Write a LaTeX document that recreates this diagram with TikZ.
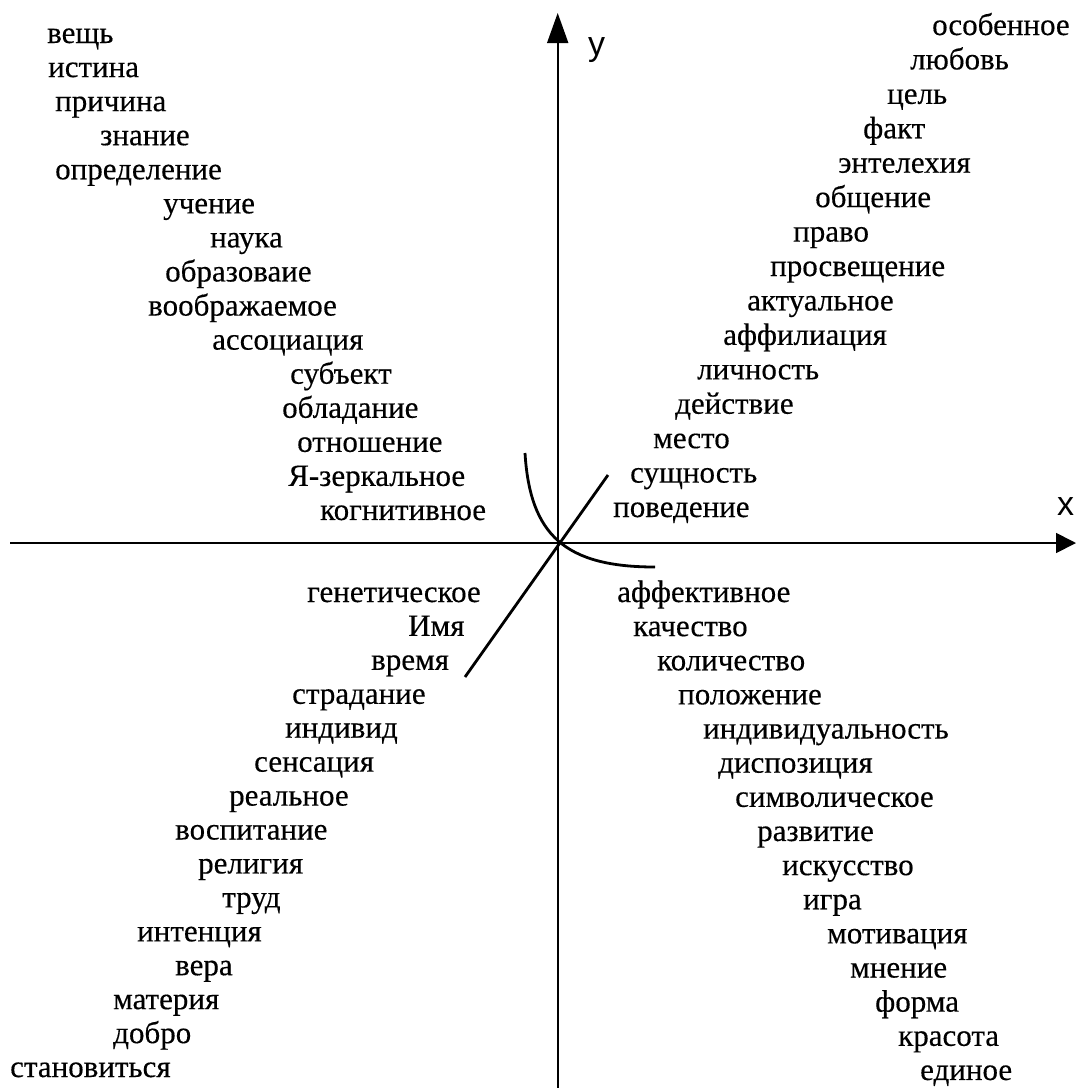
\documentclass[tikz,border=0pt]{standalone}
\usepackage{fontspec}
\setmainfont{Liberation Serif}
\newfontfamily\wordfont[FakeBold=0.35]{Liberation Serif}
\newfontfamily\axisfont{Liberation Sans}
\usetikzlibrary{arrows.meta}
\tikzset{
  word/.style={anchor=base west, inner sep=0pt, font=\wordfont\fontsize{31}{35}\selectfont},
  axislbl/.style={anchor=base west, inner sep=0pt, font=\axisfont\fontsize{34}{38}\selectfont},
  axisline/.style={line width=1.8pt},
  curveline/.style={line width=2.8pt},
}
\begin{document}
\begin{tikzpicture}[x=1pt,y=-1pt]
\useasboundingbox (0,0) rectangle (1076,1088);
% axes
\coordinate (O) at (557.7,543);
\coordinate (xs) at (10,543);
\coordinate (xe) at (1076,543);
\coordinate (ys) at (557.7,1088);
\coordinate (ye) at (557.7,13);
\draw[axisline,-{Triangle[length=20pt,width=20pt]}] (xs) -- (xe);
\draw[axisline,-{Triangle[length=30pt,width=21pt]}] (ys) -- (ye);
\node[axislbl] (ylbl) at (588,55) {y};
\node[axislbl] (xlbl) at (1057,515) {x};
% curves
\coordinate (a1) at (525,453);
\coordinate (a2) at (655,567);
\draw[curveline] (a1) .. controls (530,535) and (565,567) .. (a2);
\coordinate (d1) at (608,475);
\coordinate (d2) at (465,677);
\draw[curveline] (d1) -- (d2);
% upper left
\foreach \t/\x [count=\i from 0] in {вещь/47,истина/48,причина/55,знание/100,определение/55,учение/163,наука/210,образоваие/165,воображаемое/148,ассоциация/212,субъект/290,обладание/282,отношение/297,Я-зеркальное/288,когнитивное/320}
  \node[word] (ul\i) at (\x,43+34.07*\i) {\t};
% upper right
\foreach \t/\x [count=\i from 0] in {особенное/932,любовь/910,цель/887,факт/863,энтелехия/838,общение/815,право/793,просвещение/770,актуальное/747,аффилиация/723,личность/697,действие/675,место/653,сущность/630,поведение/613}
  \node[word] (ur\i) at (\x,35+34.43*\i) {\t};
% lower left
\foreach \t/\x [count=\i from 0] in {генетическое/307,Имя/408,время/371,страдание/292,индивид/285,сенсация/254,реальное/229,воспитание/175,религия/198,труд/222,интенция/137,вера/175,материя/113,добро/113,становиться/10}
  \node[word] (ll\i) at (\x,602+33.93*\i) {\t};
% lower right
\foreach \t/\x [count=\i from 0] in {аффективное/617,качество/633,количество/657,положение/678,индивидуальность/703,диспозиция/718,символическое/735,развитие/757,искусство/782,игра/803,мотивация/827,мнение/850,форма/875,красота/898,единое/920}
  \node[word] (lr\i) at (\x,602+34.14*\i) {\t};
\end{tikzpicture}
\end{document}
